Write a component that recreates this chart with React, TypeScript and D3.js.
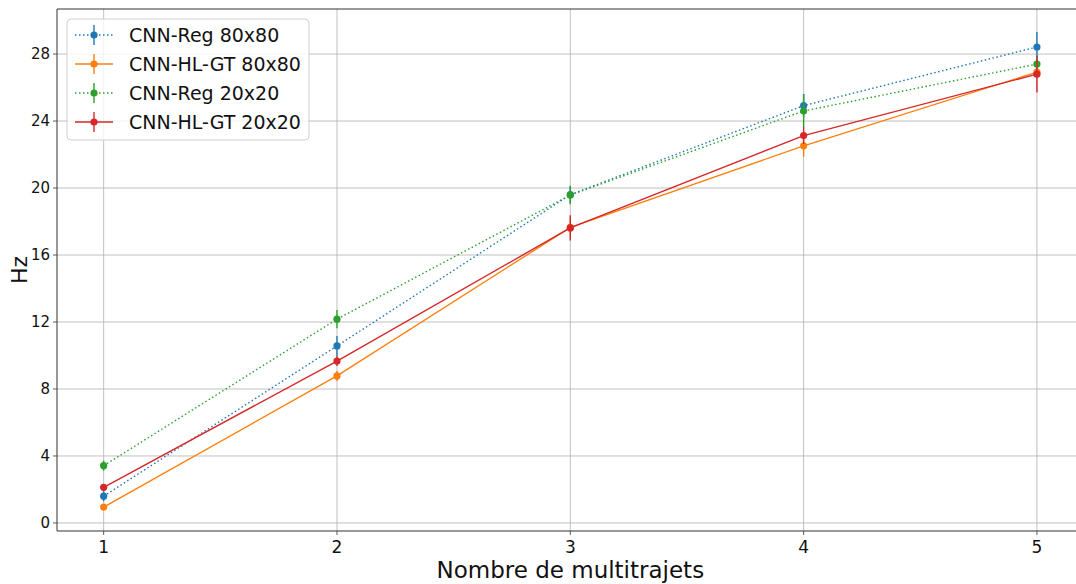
import React from "react";
import * as d3 from "d3";

const xValues = [1, 2, 3, 4, 5];
const regVals80 = [1.6, 10.57, 19.6, 24.92, 28.42];
const regErr80 = [0.3, 0.6, 0.5, 0.7, 0.9];
const hlVals80 = [0.95, 8.78, 17.65, 22.52, 26.92];
const hlErr80 = [0.15, 0.3, 0.5, 0.65, 0.3];
const regVals20 = [3.42, 12.17, 19.58, 24.6, 27.4];
const regErr20 = [0.3, 0.55, 0.55, 1.0, 0.3];
const hlVals20 = [2.13, 9.67, 17.62, 23.13, 26.8];
const hlErr20 = [0.15, 0.3, 0.75, 0.5, 1.1];
const yTicks = [0, 4, 8, 12, 16, 20, 24, 28];
const xTicks = [1, 2, 3, 4, 5];

const seriesNames = ["CNN-Reg 80x80", "CNN-HL-GT 80x80", "CNN-Reg 20x20", "CNN-HL-GT 20x20"];
const seriesColors = ["#1f77b4", "#ff7f0e", "#2ca02c", "#d62728"];
const seriesDotted = [true, false, true, false];

const W = 1076;
const H = 584;
const left = 57;
const top = 9;
const bottom = 531;
const right = 1083.6;

export default function App() {
  const x = d3.scaleLinear().domain([0.8, 5.2]).range([left, right]);
  const y = d3.scaleLinear().domain([-0.48, 30.69]).range([bottom, top]);
  const series = [
    { v: regVals80, e: regErr80 },
    { v: hlVals80, e: hlErr80 },
    { v: regVals20, e: regErr20 },
    { v: hlVals20, e: hlErr20 },
  ];
  const line = d3
    .line<number>()
    .x((_, i) => x(xValues[i]))
    .y((d) => y(d));
  const font = "DejaVu Sans, sans-serif";
  return (
    <svg
      width={W}
      height={H}
      style={{ position: "fixed", left: 0, top: 0, background: "#fff" }}
      fontFamily={font}
    >
      <rect x={0} y={0} width={W} height={H} fill="#fff" />
      {yTicks.map((t) => (
        <line key={"gy" + t} x1={left} x2={W} y1={y(t)} y2={y(t)} stroke="#b0b0b0" strokeWidth={0.8} />
      ))}
      {xTicks.map((t) => (
        <line key={"gx" + t} x1={x(t)} x2={x(t)} y1={top} y2={bottom} stroke="#b0b0b0" strokeWidth={0.8} />
      ))}
      {series.map((s, si) => (
        <g key={"s" + si}>
          <path
            d={line(s.v) || ""}
            fill="none"
            stroke={seriesColors[si]}
            strokeWidth={1.4}
            strokeDasharray={seriesDotted[si] ? "1.5,2.5" : undefined}
          />
          {s.v.map((v, i) => (
            <line
              key={"e" + i}
              x1={x(xValues[i])}
              x2={x(xValues[i])}
              y1={y(v - s.e[i])}
              y2={y(v + s.e[i])}
              stroke={seriesColors[si]}
              strokeWidth={1.4}
            />
          ))}
          {s.v.map((v, i) => (
            <circle key={"c" + i} cx={x(xValues[i])} cy={y(v)} r={3.6} fill={seriesColors[si]} />
          ))}
        </g>
      ))}
      <line x1={left} x2={left} y1={top} y2={bottom} stroke="#333" strokeWidth={1} />
      <line x1={left} x2={W} y1={bottom} y2={bottom} stroke="#333" strokeWidth={1} />
      <line x1={left} x2={W} y1={top} y2={top} stroke="#333" strokeWidth={1} />
      {yTicks.map((t) => (
        <g key={"yt" + t}>
          <line x1={left - 4} x2={left} y1={y(t)} y2={y(t)} stroke="#333" strokeWidth={0.8} />
          <text x={left - 7} y={y(t)} dy="0.35em" textAnchor="end" fontSize={15} fill="#111">
            {t}
          </text>
        </g>
      ))}
      {xTicks.map((t) => (
        <g key={"xt" + t}>
          <line x1={x(t)} x2={x(t)} y1={bottom} y2={bottom + 4} stroke="#333" strokeWidth={0.8} />
          <text x={x(t)} y={bottom + 22} textAnchor="middle" fontSize={17} fill="#111">
            {t}
          </text>
        </g>
      ))}
      <text x={(left + right) / 2} y={578} textAnchor="middle" fontSize={23} fill="#111">
        Nombre de multitrajets
      </text>
      <text
        transform={`translate(27, ${(top + bottom) / 2}) rotate(-90)`}
        textAnchor="middle"
        fontSize={22}
        fill="#111"
      >
        Hz
      </text>
      <rect x={67} y={19} width={242} height={121} rx={4} fill="#fff" fillOpacity={0.8} stroke="#d0d0d0" strokeWidth={1} />
      {seriesNames.map((n, i) => {
        const ly = 35 + i * 29;
        return (
          <g key={"lg" + i}>
            <line
              x1={75}
              x2={113}
              y1={ly}
              y2={ly}
              stroke={seriesColors[i]}
              strokeWidth={1.4}
              strokeDasharray={seriesDotted[i] ? "1.5,2.5" : undefined}
            />
            <line x1={94} x2={94} y1={ly - 10} y2={ly + 10} stroke={seriesColors[i]} strokeWidth={1.4} />
            <circle cx={94} cy={ly} r={3.6} fill={seriesColors[i]} />
            <text x={129} y={ly} dy="0.36em" fontSize={19} fill="#111">
              {n}
            </text>
          </g>
        );
      })}
    </svg>
  );
}
